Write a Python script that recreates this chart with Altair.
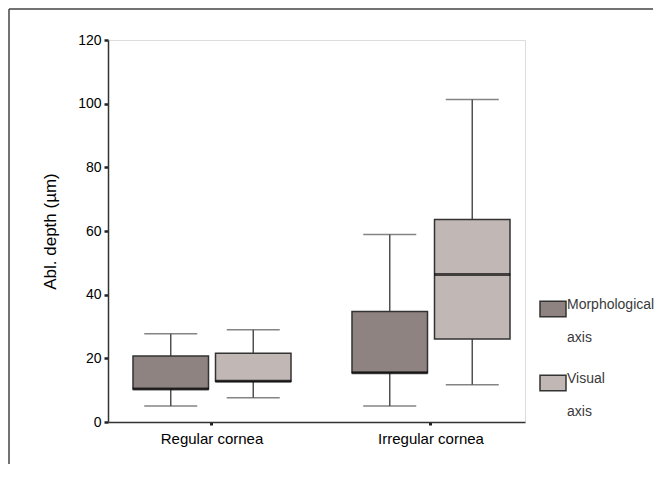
import altair as alt
import pandas as pd

categories = ["Regular cornea", "Regular cornea", "Irregular cornea", "Irregular cornea"]
groups = ["Morphological axis", "Visual axis", "Morphological axis", "Visual axis"]
whisker_low = [5.0, 7.6, 5.0, 11.7]
q1 = [10.4, 12.8, 15.5, 26.1]
median = [10.4, 12.8, 15.5, 46.3]
q3 = [20.7, 21.6, 34.7, 63.6]
whisker_high = [27.7, 29.0, 58.9, 101.3]
y_ticks = [0, 20, 40, 60, 80, 100, 120]
category_order = ["Regular cornea", "Irregular cornea"]
group_order = ["Morphological axis", "Visual axis"]
group_colors = ["#8f8381", "#c1b7b4"]

df = pd.DataFrame({
    "category": categories,
    "group": groups,
    "low": whisker_low,
    "q1": q1,
    "med": median,
    "q3": q3,
    "high": whisker_high,
})

FONT = "Liberation Sans"
TXT = "#3a3a3a"

x_enc = alt.X(
    "category:N",
    sort=category_order,
    scale=alt.Scale(paddingInner=0.2785, paddingOuter=0.0913, align=0.625),
    axis=alt.Axis(title=None, labelAngle=0, labelFontSize=15, tickSize=3, tickWidth=3,
                  tickColor="#222", labelPadding=6, domainColor="#333", domainWidth=1.5,
                  grid=False),
)
xo_enc = alt.XOffset("group:N", sort=group_order,
                     scale=alt.Scale(paddingInner=0.085, paddingOuter=0))

y_scale = alt.Scale(domain=[0, 120], nice=False)


def y_enc(field, axis=False):
    if axis:
        return alt.Y(field, type="quantitative", scale=y_scale,
                     axis=alt.Axis(values=y_ticks, title="Abl. depth (µm)", tickSize=4,
                                   tickWidth=2.5, tickColor="#222", labelFontSize=14,
                                   labelPadding=3, titleFontSize=17, titlePadding=18,
                                   titleFontWeight="normal", domainColor="#333",
                                   domainWidth=1.5, grid=False))
    return alt.Y(field, type="quantitative", scale=y_scale, title="Abl. depth (µm)")


base = alt.Chart(df)
WH = "#505050"

whisk_low = base.mark_rule(color=WH, strokeWidth=1.5).encode(
    x=x_enc, xOffset=xo_enc, y=y_enc("low", True), y2="q1")
whisk_high = base.mark_rule(color=WH, strokeWidth=1.5).encode(
    x=x_enc, xOffset=xo_enc, y=y_enc("q3"), y2="high")
cap_low = base.mark_tick(color=WH, thickness=1.5, size=53, orient="horizontal").encode(
    x=x_enc, xOffset=xo_enc, y=y_enc("low"))
cap_high = base.mark_tick(color=WH, thickness=1.5, size=53, orient="horizontal").encode(
    x=x_enc, xOffset=xo_enc, y=y_enc("high"))
box = base.mark_bar(stroke="#333333", strokeWidth=1.5, opacity=1).encode(
    x=x_enc, xOffset=xo_enc, y=y_enc("q1"), y2="q3",
    color=alt.Color("group:N", sort=group_order,
                    scale=alt.Scale(domain=group_order, range=group_colors),
                    legend=alt.Legend(title=None, orient="none", legendX=431, legendY=255,
                                      labelExpr="split(datum.label, ' ')",
                                      labelFont=FONT, labelFontSize=14, labelColor=TXT,
                                      labelBaseline="alphabetic", labelOffset=0,
                                      labelLimit=200,
                                      symbolType="M-1,-0.6H1V0.6H-1Z", symbolSize=676,
                                      symbolStrokeColor="#333333", symbolStrokeWidth=1.5,
                                      symbolOpacity=1, rowPadding=24, padding=0)))
med = base.mark_tick(color="#0a0a0a", thickness=3, size=76, orient="horizontal").encode(
    x=x_enc, xOffset=xo_enc, y=y_enc("med"))

frame_df = pd.DataFrame({"k": [0]})
frame_top = alt.Chart(frame_df).mark_rule(color="#444444", strokeWidth=1.5).encode(
    x=alt.value(-99), x2=alt.value(545), y=alt.value(-31), y2=alt.value(-31))
frame_left = alt.Chart(frame_df).mark_rule(color="#444444", strokeWidth=1.5).encode(
    x=alt.value(-99), x2=alt.value(-99), y=alt.value(-31), y2=alt.value(424))

chart = alt.layer(whisk_low, whisk_high, cap_low, cap_high, box, med, frame_top, frame_left).properties(
    width=417, height=382,
    autosize=alt.AutoSizeParams(type="none"),
    padding={"left": 100, "top": 32, "right": 129, "bottom": 42},
).configure_view(
    stroke="#5a5a5a", strokeWidth=1.5
).configure_axis(
    labelFont=FONT, labelColor=TXT, titleFont=FONT, titleColor=TXT, grid=False
).configure(
    style={"guide-label": {"lineHeight": 33}}
)

chart.save("out.html", embed_options={"renderer": "svg", "actions": False})
